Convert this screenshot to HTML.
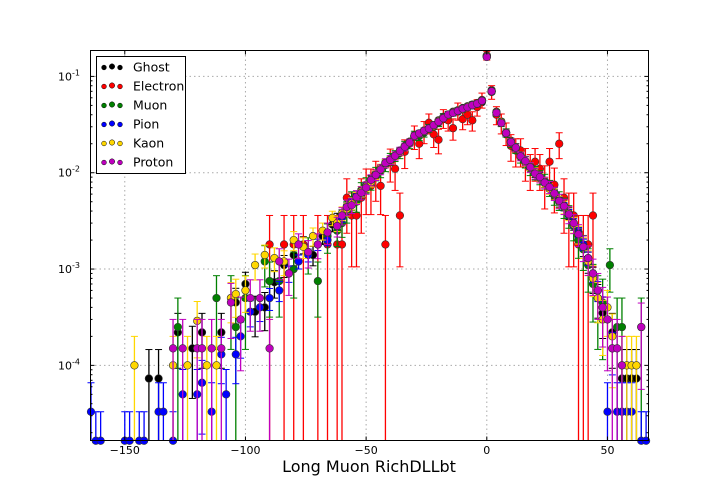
<!DOCTYPE html>
<html><head><meta charset="utf-8"><style>
body{margin:0;background:#fff;}
svg{display:block;font-family:"DejaVu Sans","Liberation Sans",sans-serif;}
</style></head><body>
<svg id="chart" width="720" height="504" viewBox="0 0 720 504" xmlns="http://www.w3.org/2000/svg">
<rect x="0" y="0" width="720" height="504" fill="#fff"/>
<g id="grid"></g>
<g id="series"></g>
<rect x="90.5" y="50.5" width="558" height="390" fill="none" stroke="#000" stroke-width="1"/>
<g id="axes"></g>
<text x="369" y="472" font-size="16" text-anchor="middle">Long Muon RichDLLbt</text>
<g id="legend"></g>
</svg>
<script>
// ---- data ----
const speciesNames = ["Ghost","Electron","Muon","Pion","Kaon","Proton"];
const speciesColors = ["#000000","#ff0000","#008000","#0000ff","#ffd700","#bf00bf"];
// Poisson unit (value of a single count), in 1e-4
const speciesUnits = [0.73, 18, 2.5, 0.33, 1.0, 1.5];
const coreX = [-60,-58,-56,-54,-52,-50,-48,-46,-44,-42,-40,-38,-36,-34,-32,-30,-28,-26,-24,-22,-20,-18,-16,-14,-12,-10,-8,-6,-4,-2,0,2,4,6,8,10,12,14,16,18,20,22,24,26,28,30,32,34,36,38,40,42,44,46,48];
// values in units of 1e-4
const ghostCore  = [36,43,47,56,62,70,85,93,108,128,133,148,170,180,210,235,250,275,285,300,350,360,390,430,430,470,490,500,530,540,1650,720,430,340,250,215,175,150,128,118,98,92,78,72,60,50,46,38,30,22,17,12,8,5,3.5];
const muonCore   = [30,40,52,50,66,75,80,98,105,120,140,150,160,190,200,245,240,260,290,310,330,380,400,420,440,460,480,510,520,560,1600,700,420,330,260,205,180,145,130,110,100,90,82,70,58,52,44,36,28,20,16,11,7,5,4.5];
const pionCore   = [34,45,50,58,60,74,82,96,110,122,138,152,165,185,205,240,255,270,290,310,340,370,400,420,440,460,480,500,520,560,1600,700,420,330,260,210,180,150,130,115,100,90,80,70,62,52,45,38,30,24,18,13,9,6,4];
const kaonCore   = [38,42,48,55,64,72,80,95,112,125,135,150,162,182,210,238,252,268,292,305,345,372,395,425,445,455,485,505,525,555,1620,705,425,335,262,212,178,152,128,116,102,88,80,68,60,50,44,38,29,23,17,12,8,5,3];
const protonCore = [36,44,46,56,62,70,84,95,108,126,136,150,168,186,206,242,256,272,288,312,338,368,402,418,438,462,478,502,522,558,1590,700,418,328,258,208,182,148,132,114,98,90,79,71,61,51,45,37,30,23,17,13,9,6,4];
const ghostTail  = [[-140,0.73],[-136,0.73],[-128,2.2],[-122,1.5],[-118,2.2],[-110,2.2],[-104,4.5],[-100,7],[-96,3.6],[-92,4],[-88,7.3],[-84,11],[-80,14],[-76,18],[-72,14],[-68,22],[-64,29],[-62,33],[52,2.2],[56,0.73],[58,0.73],[60,0.73],[62,0.73]];
const electronPts= [[-90,18],[-84,18],[-80,18],[-76,18],[-70,18],[-66,18],[-62,18],[-60,18],[-58,55],[-56,36],[-54,36],[-52,55],[-50,73],[-48,73],[-46,91],[-44,73],[-42,18],[-40,128],[-38,110],[-36,36],[-34,165],[-30,240],[-28,200],[-26,270],[-24,330],[-22,250],[-20,220],[-18,370],[-16,350],[-14,290],[-12,440],[-10,360],[-8,400],[-6,350],[-4,480],[-2,570],[0,1650],[2,690],[4,400],[6,330],[8,260],[10,190],[12,170],[14,170],[16,130],[18,110],[20,130],[22,110],[24,80],[26,130],[28,75],[30,200],[32,55],[34,36],[36,36],[38,18],[40,18],[42,18],[44,36]];
const muonTail   = [[-128,2.5],[-112,5],[-106,5],[-104,2.5],[-100,5],[-92,12],[-90,7.5],[-86,7.5],[-80,10],[-74,15],[-70,7.5],[-66,22],[-62,25],[51,11],[54,2.5],[56,2.5],[64,2.5]];
const pionTail   = [[-164,0.33],[-162,0.165],[-160,0.165],[-150,0.165],[-148,0.165],[-144,0.165],[-142,0.165],[-136,0.33],[-134,0.33],[-130,0.165],[-126,0.5],[-120,0.5],[-118,0.66],[-114,0.33],[-110,1.3],[-108,0.5],[-104,1.3],[-102,2.0],[-98,3.6],[-94,4],[-90,5],[-86,6],[-82,9],[-78,12],[-74,14],[-70,18],[-66,20],[-62,30],[50,0.33],[52,1.5],[54,0.33],[56,0.33],[58,0.33],[60,0.33],[64,0.165],[66,0.165]];
const kaonTail   = [[-146,1],[-130,1],[-124,1],[-120,2.9],[-116,1],[-112,1],[-106,5],[-104,5.5],[-100,6],[-96,11],[-92,14],[-88,13],[-84,12],[-80,20],[-76,17],[-72,22],[-68,25],[-64,34],[-62,30],[50,4],[52,2],[56,1],[58,1],[60,1],[62,1]];
const protonTail = [[-130,1.5],[-126,1.5],[-120,1.5],[-118,1.5],[-114,1.5],[-110,1.5],[-106,4.5],[-102,3],[-98,5],[-94,5],[-90,1.5],[-86,12],[-82,9],[-78,18],[-74,15],[-70,18],[-66,24],[-62,28],[50,3],[52,1.5],[54,1.5],[56,1],[64,2.5]];
const xTicks = [-150,-100,-50,0,50];
const xTickLabels = ["\u2212150","\u2212100","\u221250","0","50"];
const yTickExps = [-1,-2,-3,-4];

// ---- axes ----
const X0=90.5, X1=648.5, Y0=50.5, Y1=440.5;
const xMin=-164.2, xMax=67.0;
const lMax=-0.731, lMin=-4.78;
function xs(v){return X0+(v-xMin)/(xMax-xMin)*(X1-X0);}
function ys(v){return Y0+(lMax-Math.log10(v))/(lMax-lMin)*(Y1-Y0);}
const NS="http://www.w3.org/2000/svg";
function mk(tag,attrs,parent){const e=document.createElementNS(NS,tag);for(const k in attrs)e.setAttribute(k,attrs[k]);parent.appendChild(e);return e;}
const grid=document.getElementById('grid'), axes=document.getElementById('axes'), ser=document.getElementById('series'), leg=document.getElementById('legend');

xTicks.forEach((t,i)=>{
  const x=xs(t);
  const g=mk('line',{x1:x,x2:x,y1:Y0,y2:Y1,stroke:'#aaa','stroke-dasharray':'1.5,3'},grid);
  
  
  mk('line',{x1:x,x2:x,y1:Y1,y2:Y1-4,stroke:'#000'},axes);
  mk('line',{x1:x,x2:x,y1:Y0,y2:Y0+4,stroke:'#000'},axes);
  const tx=mk('text',{x:x,y:454,'font-size':11,'text-anchor':'middle'},axes);
  tx.textContent=xTickLabels[i];
  
  
});
yTickExps.forEach(e=>{
  const y=ys(Math.pow(10,e));
  const g=mk('line',{x1:X0,x2:X1,y1:y,y2:y,stroke:'#aaa','stroke-dasharray':'1.5,3'},grid);
  
  
  mk('line',{x1:X0,x2:X0+4,y1:y,y2:y,stroke:'#000'},axes);
  mk('line',{x1:X1,x2:X1-4,y1:y,y2:y,stroke:'#000'},axes);
  const tx=mk('text',{x:80,y:y+4,'font-size':11,'text-anchor':'end'},axes);
  
  
  tx.appendChild(document.createTextNode('10'));
  const sp=mk('tspan',{dy:-5,'font-size':8},tx);sp.textContent=String(e);
});
for(let e=-5;e<0;e++){for(let m=2;m<10;m++){const v=m*Math.pow(10,e);const y=ys(v);if(y<Y0||y>Y1)continue;
  mk('line',{x1:X0,x2:X0+2,y1:y,y2:y,stroke:'#000'},axes);mk('line',{x1:X1,x2:X1-2,y1:y,y2:y,stroke:'#000'},axes);}}

// ---- series ----
function buildPts(core,tail){const p=[];if(core)core.forEach((v,i)=>{if(i<coreX.length&&v>0)p.push([coreX[i],v]);});tail.forEach(q=>p.push(q));return p;}
const seriesPts=[buildPts(ghostCore,ghostTail),buildPts(null,electronPts),buildPts(muonCore,muonTail),buildPts(pionCore,pionTail),buildPts(kaonCore,kaonTail),buildPts(protonCore,protonTail)];
seriesPts.forEach((pts,si)=>{
  const col=speciesColors[si], unit=speciesUnits[si];
  const g=mk('g',{},ser);
  
  
  pts.forEach(([xv,v4])=>{
    const v=v4*1e-4, err=v/Math.sqrt(Math.max(v4/unit,1));
    const cx=xs(xv), cy=ys(v);
    const yt=Math.max(ys(v+err),Y0);
    const yb=(v-err)<=Math.pow(10,lMin)?Y1:Math.min(ys(v-err),Y1);
    mk('line',{x1:cx,x2:cx,y1:yt,y2:yb,stroke:col,'stroke-width':1.3},g);
    if(yt>Y0)mk('line',{x1:cx-3.5,x2:cx+3.5,y1:yt,y2:yt,stroke:col},g);
    if(yb<Y1)mk('line',{x1:cx-3.5,x2:cx+3.5,y1:yb,y2:yb,stroke:col},g);
    const hx0=xs(xv-1.2),hx1=xs(xv+1.2);
    mk('line',{x1:hx0,x2:hx1,y1:cy,y2:cy,stroke:col,'stroke-width':1.3},g);
    const c=mk('circle',{cx:cx,cy:cy,r:3.8,fill:col,stroke:'#333','stroke-width':0.6},g);
    
    
  });
});

// ---- legend ----
const lb=mk('rect',{x:96.5,y:56.5,width:89,height:117,fill:'#fff',stroke:'#000'},leg);


speciesNames.forEach((n,i)=>{
  const y=67+i*19;
  const g=mk('g',{},leg);
  
  
  [[104,2.4],[112,2.7],[120,2.4]].forEach(([x,r],k)=>mk('circle',{cx:x,cy:y+(k==1?-0.5:0.5),r:r,fill:speciesColors[i],stroke:'#000','stroke-width':0.5},g));
  const t=mk('text',{x:133,y:y+4.5,'font-size':12.5},g);t.textContent=n;
});
</script>
</body></html>
